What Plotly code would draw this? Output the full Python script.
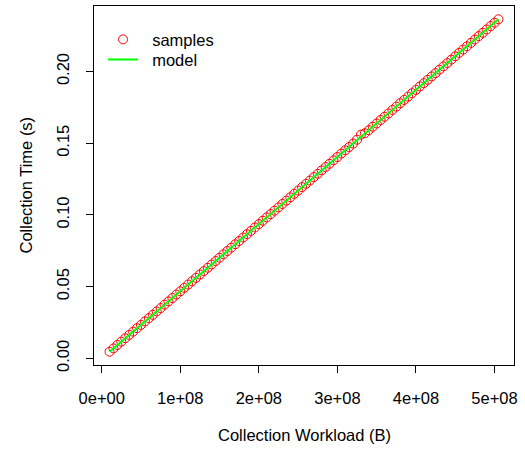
import plotly.graph_objects as go

# Collection workload (bytes) and measured collection time (seconds)
workload_b = [
    1.0e7, 1.5e7, 2.0e7, 2.5e7, 3.0e7, 3.5e7, 4.0e7, 4.5e7, 5.0e7, 5.5e7,
    6.0e7, 6.5e7, 7.0e7, 7.5e7, 8.0e7, 8.5e7, 9.0e7, 9.5e7, 1.0e8, 1.05e8,
    1.1e8, 1.15e8, 1.2e8, 1.25e8, 1.3e8, 1.35e8, 1.4e8, 1.45e8, 1.5e8, 1.55e8,
    1.6e8, 1.65e8, 1.7e8, 1.75e8, 1.8e8, 1.85e8, 1.9e8, 1.95e8, 2.0e8, 2.05e8,
    2.1e8, 2.15e8, 2.2e8, 2.25e8, 2.3e8, 2.35e8, 2.4e8, 2.45e8, 2.5e8, 2.55e8,
    2.6e8, 2.65e8, 2.7e8, 2.75e8, 2.8e8, 2.85e8, 2.9e8, 2.95e8, 3.0e8, 3.05e8,
    3.1e8, 3.15e8, 3.2e8, 3.25e8, 3.3e8, 3.35e8, 3.4e8, 3.45e8, 3.5e8, 3.55e8,
    3.6e8, 3.65e8, 3.7e8, 3.75e8, 3.8e8, 3.85e8, 3.9e8, 3.95e8, 4.0e8, 4.05e8,
    4.1e8, 4.15e8, 4.2e8, 4.25e8, 4.3e8, 4.35e8, 4.4e8, 4.45e8, 4.5e8, 4.55e8,
    4.6e8, 4.65e8, 4.7e8, 4.75e8, 4.8e8, 4.85e8, 4.9e8, 4.95e8, 5.0e8, 5.05e8,
]
time_s = [
    0.0047, 0.0070, 0.0094, 0.0117, 0.0141, 0.0164, 0.0187, 0.0211, 0.0234, 0.0258,
    0.0281, 0.0304, 0.0328, 0.0351, 0.0375, 0.0398, 0.0421, 0.0445, 0.0468, 0.0492,
    0.0515, 0.0538, 0.0562, 0.0585, 0.0609, 0.0632, 0.0655, 0.0679, 0.0702, 0.0726,
    0.0749, 0.0772, 0.0796, 0.0819, 0.0843, 0.0866, 0.0889, 0.0913, 0.0936, 0.0960,
    0.0983, 0.1006, 0.1030, 0.1053, 0.1077, 0.1100, 0.1123, 0.1147, 0.1170, 0.1194,
    0.1217, 0.1240, 0.1264, 0.1287, 0.1311, 0.1334, 0.1357, 0.1381, 0.1404, 0.1428,
    0.1451, 0.1474, 0.1498, 0.1525, 0.1560, 0.1570, 0.1591, 0.1615, 0.1638, 0.1662,
    0.1685, 0.1708, 0.1732, 0.1755, 0.1779, 0.1802, 0.1825, 0.1849, 0.1872, 0.1896,
    0.1919, 0.1942, 0.1966, 0.1989, 0.2013, 0.2036, 0.2059, 0.2083, 0.2106, 0.2130,
    0.2153, 0.2176, 0.2200, 0.2223, 0.2247, 0.2270, 0.2293, 0.2317, 0.2340, 0.2364,
]

# Fitted linear model evaluated at the ends of the workload range
model_x = [1.0e7, 5.05e8]
model_y = [0.0047, 0.2364]

x_ticks = [0, 1e8, 2e8, 3e8, 4e8, 5e8]
x_tick_labels = ["0e+00", "1e+08", "2e+08", "3e+08", "4e+08", "5e+08"]
y_ticks = [0.00, 0.05, 0.10, 0.15, 0.20]
y_tick_labels = ["0.00", "0.05", "0.10", "0.15", "0.20"]


def padded(values, frac=0.04):
    lo, hi = min(values), max(values)
    d = (hi - lo) * frac
    return [lo - d, hi + d]


FONT = "Liberation Sans, Arial, Helvetica, sans-serif"
FS = 16.5
GAP = "\u00a0\u00a0"  # extra room between legend symbol and its label

fig = go.Figure()
fig.add_trace(go.Scatter(
    x=workload_b, y=time_s, mode="markers", name=GAP + "samples",
    marker=dict(symbol="circle-open", size=9, color="#ff0000",
                line=dict(width=1, color="#ff0000")),
    legend="legend",
))
fig.add_trace(go.Scatter(
    x=model_x, y=model_y, mode="lines", name=GAP + "model",
    line=dict(color="#00ff00", width=2),
    legend="legend2",
))

axis_common = dict(
    showgrid=False, zeroline=False, showline=True, mirror=True,
    linecolor="black", linewidth=1, ticks="outside", ticklen=7,
    tickcolor="black", tickwidth=1, tickfont=dict(size=FS, color="black"),
)

# borderless legend entries, one box per entry so the row spacing is tight
legend_common = dict(xanchor="left", yanchor="top", bgcolor="rgba(0,0,0,0)",
                     font=dict(size=FS), itemwidth=30, x=0.0215)

fig.update_layout(
    width=525, height=450,
    margin=dict(l=94, r=11, t=6, b=85),
    paper_bgcolor="white", plot_bgcolor="white",
    font=dict(family=FONT, size=FS, color="black"),
    xaxis=dict(range=padded(workload_b), tickvals=x_ticks,
               ticktext=x_tick_labels, ticklabelstandoff=11, **axis_common),
    yaxis=dict(range=padded(time_s), tickvals=y_ticks,
               ticktext=y_tick_labels, tickangle=-90,
               ticklabelstandoff=10, **axis_common),
    legend=dict(y=0.955, **legend_common),
    legend2=dict(y=0.899, **legend_common),
    showlegend=True,
    annotations=[
        dict(text="Collection Workload (B)", xref="paper", yref="paper",
             x=0.5, y=0, yshift=-70, xanchor="center", yanchor="middle",
             showarrow=False, font=dict(size=FS)),
        dict(text="Collection Time (s)", xref="paper", yref="paper",
             x=0, y=0.5, xshift=-69, textangle=-90, xanchor="center",
             yanchor="middle", showarrow=False, font=dict(size=FS)),
    ],
)

fig.write_html("out.html")
